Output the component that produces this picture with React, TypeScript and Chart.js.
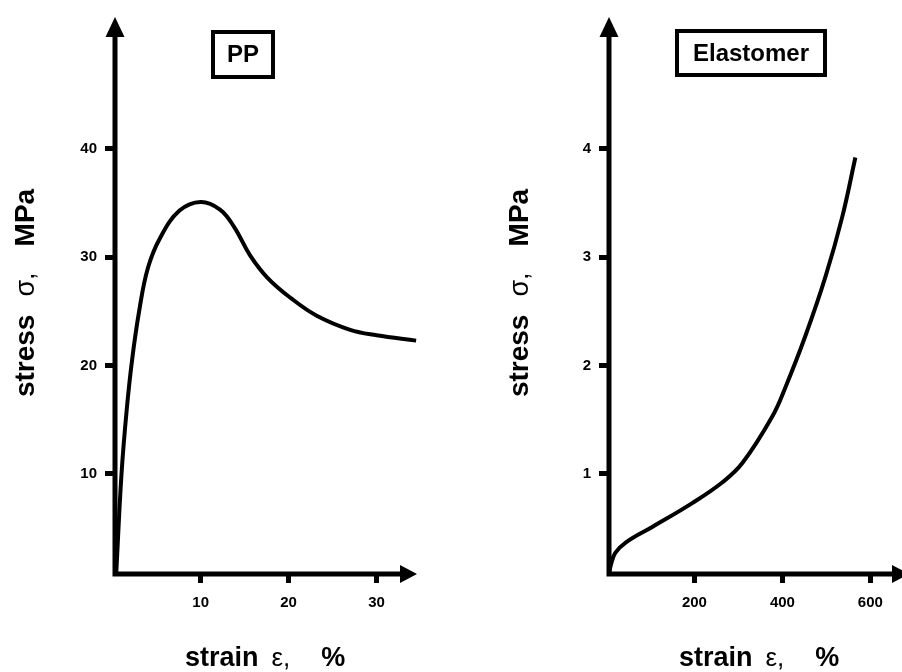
import React, { useEffect, useRef } from "react";
import { Chart, registerables } from "chart.js";

Chart.register(...registerables);

// ---- data ----
const ppStrain = [0.4, 1.0, 1.6, 2.2, 3.0, 4.0, 5.4, 7.6, 10.0, 12.2, 13.8, 15.6, 17.6, 20.3, 23.2, 27.0, 30.0, 34.5];
const ppStress = [0.8, 10, 16, 20.5, 25.0, 29.0, 31.8, 34.3, 35.1, 34.4, 32.8, 30.2, 28.1, 26.2, 24.6, 23.3, 22.8, 22.3];
const ppXTicks = [10, 20, 30];
const ppYTicks = [10, 20, 30, 40];

const elStrain = [6, 10, 20, 45, 104, 195, 263, 309, 377, 407, 452, 498, 536, 566];
const elStress = [0.08, 0.16, 0.27, 0.37, 0.51, 0.73, 0.92, 1.1, 1.53, 1.8, 2.27, 2.82, 3.37, 3.92];
const elXTicks = [200, 400, 600];
const elYTicks = [1, 2, 3, 4];

const ppTitle = "PP";
const elTitle = "Elastomer";
const yTitleParts = ["stress", "σ,", "MPa"];
const xTitleParts = ["strain", "ε,", "%"];

const FONT = "'Liberation Sans', Arial, sans-serif";
const SYM = "'Liberation Sans', Arial, sans-serif";

type PanelCfg = {
  xs: number[];
  ys: number[];
  xTicks: number[];
  yTicks: number[];
  xMin: number;
  xMax: number;
  yMin: number;
  yMax: number;
  yWidth: number;
  padRight: number;
  tipOffset: number;
  title: string;
  box: { x: number; y: number; w: number; h: number };
};

function decorPlugin(cfg: PanelCfg) {
  return {
    id: "decor",
    afterDraw(chart: any) {
      const { ctx, chartArea: a } = chart;
      ctx.save();
      ctx.fillStyle = "#000";
      ctx.strokeStyle = "#000";
      // axes lines
      ctx.lineWidth = 5;
      ctx.lineCap = "butt";
      ctx.beginPath();
      ctx.moveTo(a.left, a.bottom + 2.5);
      ctx.lineTo(a.left, a.top + 16);
      ctx.moveTo(a.left - 2.5, a.bottom);
      ctx.lineTo(a.right + cfg.tipOffset - 14, a.bottom);
      ctx.stroke();
      // y arrow
      ctx.beginPath();
      ctx.moveTo(a.left, a.top);
      ctx.lineTo(a.left - 9.5, a.top + 20);
      ctx.lineTo(a.left + 9.5, a.top + 20);
      ctx.closePath();
      ctx.fill();
      // x arrow
      const tip = a.right + cfg.tipOffset;
      ctx.beginPath();
      ctx.moveTo(tip, a.bottom);
      ctx.lineTo(tip - 17, a.bottom - 9);
      ctx.lineTo(tip - 17, a.bottom + 9);
      ctx.closePath();
      ctx.fill();

      // title box
      const b = cfg.box;
      ctx.lineWidth = 4;
      ctx.strokeRect(b.x, b.y, b.w, b.h);
      ctx.font = `bold 24px ${FONT}`;
      ctx.textAlign = "center";
      ctx.textBaseline = "middle";
      ctx.fillText(cfg.title, b.x + b.w / 2, b.y + b.h / 2 + 1);

      // x title
      ctx.textAlign = "left";
      ctx.textBaseline = "alphabetic";
      let x = a.left + 70;
      const base = 666;
      ctx.font = `bold 27px ${FONT}`;
      ctx.fillText(xTitleParts[0], x, base);
      x += ctx.measureText(xTitleParts[0]).width + 13;
      ctx.font = `26px ${SYM}`;
      ctx.fillText(xTitleParts[1], x, base);
      x += ctx.measureText(xTitleParts[1]).width + 31;
      ctx.font = `bold 27px ${FONT}`;
      ctx.fillText(xTitleParts[2], x, base);

      // y title (rotated)
      ctx.save();
      ctx.translate(a.left - 81, 293);
      ctx.rotate(-Math.PI / 2);
      ctx.font = `bold 28px ${FONT}`;
      const w0 = ctx.measureText(yTitleParts[0]).width;
      const w2 = ctx.measureText(yTitleParts[2]).width;
      ctx.font = `27px ${SYM}`;
      const w1 = ctx.measureText(yTitleParts[1]).width;
      const g1 = 18;
      const g2 = 26;
      const total = w0 + g1 + w1 + g2 + w2;
      let yx = -total / 2;
      ctx.font = `bold 28px ${FONT}`;
      ctx.fillText(yTitleParts[0], yx, 0);
      yx += w0 + g1;
      ctx.font = `27px ${SYM}`;
      ctx.fillText(yTitleParts[1], yx, 0);
      yx += w1 + g2;
      ctx.font = `bold 28px ${FONT}`;
      ctx.fillText(yTitleParts[2], yx, 0);
      ctx.restore();

      ctx.restore();
    },
  };
}

function Panel({ cfg }: { cfg: PanelCfg }) {
  const ref = useRef<HTMLCanvasElement | null>(null);
  useEffect(() => {
    if (!ref.current) return;
    const tickFont = { family: FONT, size: 15, weight: "bold" as const };
    const chart = new Chart(ref.current, {
      type: "line",
      data: {
        datasets: [
          {
            data: cfg.xs.map((x, i) => ({ x, y: cfg.ys[i] })),
            borderColor: "#000",
            borderWidth: 4,
            pointRadius: 0,
            fill: false,
            tension: 0.4,
            clip: false as any,
          },
        ],
      },
      options: {
        animation: false,
        responsive: false,
        events: [],
        layout: { padding: { top: 12, right: cfg.padRight, left: 0, bottom: 0 } },
        plugins: { legend: { display: false }, tooltip: { enabled: false } },
        scales: {
          x: {
            type: "linear",
            min: cfg.xMin,
            max: cfg.xMax,
            afterFit: (s: any) => {
              s.height = 98;
            },
            afterBuildTicks: (s: any) => {
              s.ticks = cfg.xTicks.map((v) => ({ value: v }));
            },
            grid: { display: true, drawOnChartArea: false, drawTicks: true, tickLength: 9, lineWidth: 5, color: "#000" },
            border: { display: false },
            ticks: { autoSkip: false, maxRotation: 0, padding: 11, color: "#000", font: tickFont },
          },
          y: {
            type: "linear",
            min: cfg.yMin,
            max: cfg.yMax,
            afterFit: (s: any) => {
              s.width = cfg.yWidth;
            },
            afterBuildTicks: (s: any) => {
              s.ticks = cfg.yTicks.map((v) => ({ value: v }));
            },
            grid: { display: true, drawOnChartArea: false, drawTicks: true, tickLength: 10, lineWidth: 5, color: "#000" },
            border: { display: false },
            ticks: { autoSkip: false, padding: 8, color: "#000", font: tickFont },
          },
        },
      },
      plugins: [decorPlugin(cfg)],
    });
    return () => chart.destroy();
  }, [cfg]);
  return <canvas ref={ref} width={451} height={672} style={{ display: "block", width: 451, height: 672 }} />;
}

const leftCfg: PanelCfg = {
  xs: ppStrain,
  ys: ppStress,
  xTicks: ppXTicks,
  yTicks: ppYTicks,
  xMin: 0.26,
  xMax: 34.6,
  yMin: 0.76,
  yMax: 52.17,
  yWidth: 115,
  padRight: 34,
  tipOffset: 0,
  title: ppTitle,
  box: { x: 213, y: 32, w: 60, h: 45 },
};

const rightCfg: PanelCfg = {
  xs: elStrain,
  ys: elStress,
  xTicks: elXTicks,
  yTicks: elYTicks,
  xMin: 5.7,
  xMax: 672,
  yMin: 0.076,
  yMax: 5.217,
  yWidth: 158,
  padRight: 0,
  tipOffset: 7,
  title: elTitle,
  box: { x: 677 - 451, y: 31, w: 148, h: 44 },
};

export default function App() {
  return (
    <div style={{ position: "absolute", left: 0, top: 0, width: 902, height: 672, display: "flex", background: "#fff" }}>
      <Panel cfg={leftCfg} />
      <Panel cfg={rightCfg} />
    </div>
  );
}
